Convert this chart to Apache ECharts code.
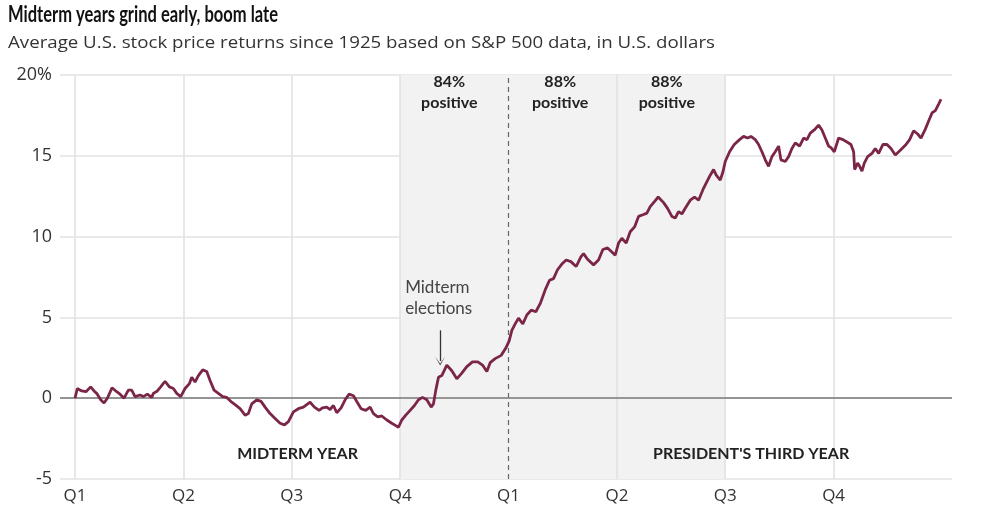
<!DOCTYPE html>
<html>
<head>
<meta charset="utf-8">
<script src="https://cdn.jsdelivr.net/npm/echarts@6/dist/echarts.min.js"></script>
<style>
  html, body { margin: 0; padding: 0; background: #fff; }
  #chart { width: 994px; height: 521px; }
</style>
</head>
<body>
<div id="chart"></div>
<script>
// week of the two-year cycle (13 weeks per quarter)
const weeks = [
  0, 0.28, 0.8, 1.32, 1.88, 2.28, 2.6, 3.08, 3.48, 3.88, 4.44, 5.0, 5.4, 5.88, 6.4, 6.8, 7.2, 7.8, 8.2, 8.68,
  9.2, 9.4, 9.88, 10.28, 10.8, 11.32, 11.8, 12.2, 12.68, 13.2, 13.72, 14.0, 14.4, 14.8, 15.32, 15.8, 16.2, 16.68,
  17.2, 17.72, 18.2, 18.8, 19.2, 19.8, 20.4, 20.8, 21.2, 21.8, 22.32, 22.8, 23.4, 24.0, 24.6, 25.12, 25.6, 26.2,
  26.8, 27.4, 28.2, 28.72, 29.28, 29.68, 30.2, 30.6, 31.0, 31.4, 31.92, 32.4, 32.88, 33.4, 33.8, 34.32, 34.88,
  35.4, 35.8, 36.32, 36.8, 37.4, 38.0, 38.48, 38.8, 39.2, 39.68, 40.2, 40.72, 41.2, 41.68, 42.2, 42.72, 43.0,
  43.28, 43.6, 44.0, 44.6, 45.2, 45.8, 46.4, 47.0, 47.68, 48.32, 48.88, 49.4, 49.8, 50.4, 51.12, 51.68, 52.08,
  52.4, 52.8, 53.2, 53.72, 54.2, 54.72, 55.28, 55.8, 56.4, 56.92, 57.4, 57.88, 58.4, 58.92, 59.48, 60.12, 60.68,
  61.0, 61.48, 62.2, 62.8, 63.32, 63.88, 64.4, 64.8, 65.2, 65.6, 66.12, 66.6, 67.12, 67.6, 68.12, 68.6, 69.0,
  69.48, 69.96, 70.6, 71.08, 71.6, 72.0, 72.4, 72.8, 73.2, 73.8, 74.32, 74.8, 75.32, 75.8, 76.2, 76.6, 76.92,
  77.4, 77.72, 78.0, 78.52, 79.08, 79.72, 80.2, 80.68, 81.08, 81.6, 82.0, 82.4, 82.8, 83.2, 83.6, 84.0, 84.4,
  84.68, 85.2, 85.6, 86.0, 86.4, 86.92, 87.4, 87.8, 88.2, 88.68, 89.2, 89.6, 90.0, 90.4, 90.68, 91.08, 91.6,
  92.12, 92.6, 93.08, 93.4, 93.52, 93.88, 94.12, 94.4, 94.68, 95.08, 95.6, 96.0, 96.4, 96.92, 97.4, 97.88, 98.4,
  99.0, 99.6, 100.12, 100.6, 101.08, 101.48, 102.0, 102.4, 102.8, 103.2, 103.6, 103.88
];
// average return, %
const returns = [
  0, 0.6, 0.45, 0.4, 0.7, 0.45, 0.3, -0.1, -0.3, 0, 0.65, 0.4, 0.25, 0, 0.5, 0.5, 0.1, 0.2, 0.1, 0.25,
  0.05, 0.3, 0.45, 0.7, 1.05, 0.7, 0.6, 0.3, 0.1, 0.6, 0.9, 1.3, 1.0, 1.4, 1.75, 1.65, 1.1, 0.5,
  0.3, 0.1, 0.05, -0.25, -0.4, -0.65, -1.05, -0.95, -0.35, -0.1, -0.2, -0.55, -0.95, -1.25, -1.55, -1.65, -1.45, -0.85,
  -0.65, -0.55, -0.25, -0.55, -0.75, -0.6, -0.55, -0.7, -0.45, -0.9, -0.6, -0.1, 0.25, 0.15, -0.2, -0.65, -0.75,
  -0.55, -0.95, -1.15, -1.1, -1.35, -1.55, -1.7, -1.8, -1.35, -1.05, -0.75, -0.45, -0.1, 0.05, -0.1, -0.55, -0.35,
  0.5, 1.3, 1.4, 2.05, 1.7, 1.2, 1.55, 1.95, 2.25, 2.25, 2.05, 1.65, 2.2, 2.45, 2.65, 3.1, 3.55,
  4.2, 4.6, 4.95, 4.6, 5.15, 5.45, 5.35, 5.85, 6.7, 7.3, 7.4, 7.95, 8.3, 8.55, 8.45, 8.15, 8.75,
  8.95, 8.6, 8.25, 8.55, 9.2, 9.3, 9.05, 8.85, 9.6, 9.9, 9.6, 10.3, 10.6, 11.25, 11.35, 11.45, 11.85,
  12.15, 12.45, 12.1, 11.75, 11.25, 11.15, 11.55, 11.4, 11.75, 12.25, 12.45, 12.25, 12.9, 13.4, 13.8, 14.15, 13.8,
  13.5, 14.0, 14.65, 15.25, 15.7, 16.0, 16.2, 16.1, 16.2, 16.0, 15.7, 15.25, 14.75, 14.35, 14.95, 15.25, 15.6,
  14.75, 14.65, 14.95, 15.45, 15.8, 15.6, 16.1, 16.0, 16.4, 16.6, 16.9, 16.6, 16.1, 15.6, 15.5, 15.25, 16.1,
  16.0, 15.85, 15.7, 15.25, 14.15, 14.55, 14.35, 14.05, 14.55, 14.95, 15.15, 15.45, 15.15, 15.7, 15.7, 15.45, 15.05,
  15.35, 15.65, 16.0, 16.55, 16.35, 16.1, 16.65, 17.15, 17.65, 17.8, 18.2, 18.5
];

const quarterWeeks = [0, 13, 26, 39, 52, 65, 78, 91];
const quarterLabels = ['Q1', 'Q2', 'Q3', 'Q4', 'Q1', 'Q2', 'Q3', 'Q4'];

// shaded stretch and the notes on it
const shadeRange = [39, 78];
const positiveNotes = [
  { week: 44.9, text: '84%\npositive' },
  { week: 58.2, text: '88%\npositive' },
  { week: 71.0, text: '88%\npositive' },
];
const yearNotes = [
  { week: 26.7, text: 'MIDTERM YEAR' },
  { week: 81.1, text: "PRESIDENT'S THIRD YEAR" },
];
const electionWeek = 43.8;

const titleText = 'Midterm years grind early, boom late';
const subtitleText = 'Average U.S. stock price returns since 1925 based on S&P 500 data, in U.S. dollars';

const chart = echarts.init(document.getElementById('chart'));

const lineData = weeks.map((w, i) => [w, returns[i]]);
const labelFont = 'Lato, "Noto Sans", sans-serif';
const axisFont = '"Open Sans", "Noto Sans", sans-serif';

// the reference headline is set in a narrow face, so squeeze our text to its width
const measure = document.createElement('canvas').getContext('2d');
function fitScale(text, font, width) {
  measure.font = font;
  return width / measure.measureText(text).width;
}
const titleFont = 'bold 23px Lato';
const subFont = '17px "Open Sans"';

const option = {
  animation: false,
  backgroundColor: '#fff',
  graphic: [
    {
      type: 'text',
      x: 8,
      y: 15,
      scaleX: fitScale(titleText, titleFont, 270),
      style: {
        text: titleText,
        font: titleFont,
        fill: '#111',
        textVerticalAlign: 'middle',
      },
    },
    {
      type: 'text',
      x: 8,
      y: 43,
      scaleX: fitScale(subtitleText, subFont, 707),
      style: {
        text: subtitleText,
        font: subFont,
        fill: '#333',
        textVerticalAlign: 'middle',
      },
    },
  ],
  grid: {
    left: 60,
    right: 42,
    top: 75,
    bottom: 42,
    containLabel: false,
  },
  xAxis: {
    type: 'value',
    min: -1.8,
    max: 105.2,
    axisLine: { show: false },
    axisTick: { show: false },
    splitLine: { show: false },
    axisLabel: {
      customValues: quarterWeeks,
      formatter: v => quarterLabels[quarterWeeks.indexOf(v)] || '',
      fontFamily: axisFont,
      fontSize: 17,
      color: '#333',
      margin: 9,
    },
  },
  yAxis: {
    type: 'value',
    min: -5,
    max: 20,
    interval: 5,
    axisLine: { show: false },
    axisTick: { show: false },
    splitLine: { lineStyle: { color: '#e3e3e3', width: 1.5 } },
    axisLabel: {
      formatter: v => (v === 20 ? '20%' : String(v)),
      fontFamily: axisFont,
      fontSize: 18,
      color: '#333',
      margin: 8,
    },
  },
  series: [
    {
      type: 'line',
      data: lineData,
      symbol: 'none',
      z: 5,
      lineStyle: { color: '#7b2548', width: 2.8 },
      markArea: {
        silent: true,
        itemStyle: { color: '#f2f2f2' },
        data: [[{ xAxis: shadeRange[0] }, { xAxis: shadeRange[1] }]],
      },
      markLine: {
        silent: true,
        symbol: 'none',
        label: { show: false },
        animation: false,
        data: [
          ...quarterWeeks.filter(w => w !== 52).map(w => ({
            xAxis: w,
            lineStyle: { color: '#e0e0e0', width: 1.5, type: 'solid' },
          })),
          { xAxis: 52, lineStyle: { color: '#666', width: 1.2, type: [5, 4] } },
          { yAxis: 0, lineStyle: { color: '#777', width: 1.6, type: 'solid' } },
          [
            {
              coord: [electionWeek, 4.2],
              symbol: 'none',
              lineStyle: { color: '#333', width: 1.3, type: 'solid' },
            },
            {
              coord: [electionWeek, 2.3],
              symbol: 'path://M-6,-8 L0,0 L6,-8 L0,-1.5 Z',
              symbolSize: [10, 9],
              symbolRotate: 0,
              itemStyle: { color: '#333' },
            },
          ],
        ],
      },
    },
    {
      type: 'scatter',
      data: [],
      markPoint: {
        silent: true,
        symbol: 'circle',
        symbolSize: 0,
        data: [
          ...positiveNotes.map(n => ({
            coord: [n.week, 18.94],
            label: {
              show: true,
              formatter: n.text,
              position: 'inside',
              align: 'center',
              verticalAlign: 'middle',
              fontFamily: labelFont,
              fontWeight: 'bold',
              fontSize: 16,
              lineHeight: 21,
              color: '#222',
            },
          })),
          ...yearNotes.map(n => ({
            coord: [n.week, -3.45],
            label: {
              show: true,
              formatter: n.text,
              position: 'inside',
              align: 'center',
              verticalAlign: 'middle',
              fontFamily: labelFont,
              fontWeight: 'bold',
              fontSize: 16,
              color: '#222',
            },
          })),
          {
            coord: [39.6, 6.23],
            label: {
              show: true,
              formatter: 'Midterm\nelections',
              position: 'inside',
              align: 'left',
              verticalAlign: 'middle',
              fontFamily: labelFont,
              fontSize: 17,
              lineHeight: 21,
              color: '#444',
            },
          },
        ],
      },
    },
  ],
};

chart.setOption(option);
</script>
</body>
</html>
